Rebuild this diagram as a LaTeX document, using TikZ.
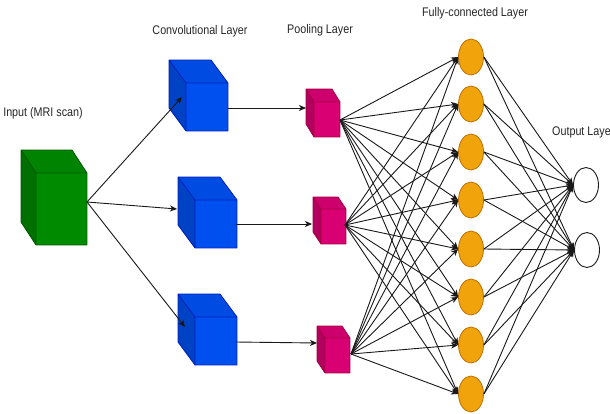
\documentclass[tikz,border=0pt]{standalone}
\usepackage{fontspec}
\setmainfont[FakeStretch=0.86]{Liberation Sans}
\usetikzlibrary{shapes.geometric,arrows.meta}

% face colours of the boxes and neurons
\definecolor{inFill}{HTML}{008A00}
\definecolor{inLine}{HTML}{005700}
\definecolor{convFill}{HTML}{0050EF}
\definecolor{convLine}{HTML}{001DBC}
\definecolor{poolFill}{HTML}{D80073}
\definecolor{poolLine}{HTML}{A50040}
\definecolor{fcFill}{HTML}{F0A30A}
\definecolor{fcLine}{HTML}{BD7000}

% a box seen from the front left: back corner (#1,#2), width #3, height #4,
% depth offset (#5,#6), colours #7Fill / #7Line
\newcommand{\drawcube}[7]{%
  \fill[#7Fill!95!black] (#1,#2) -- ++(#3,0) -- ++(#5,#6) -- ++(-#3,0) -- cycle;
  \fill[#7Fill!82!black] (#1,#2) -- ++(#5,#6) -- ++(0,#4) -- ++(-#5,-#6) -- cycle;
  \fill[#7Fill] (#1+#5,#2+#6) rectangle ++(#3,#4);
  \draw[#7Line, line width=0.8pt, line join=round]
    (#1,#2) -- ++(#3,0) -- ++(#5,#6) -- ++(0,#4) -- ++(-#3,0) -- ++(-#5,-#6) -- cycle
    (#1,#2) -- ++(#5,#6) -- ++(#3,0)
    (#1+#5,#2+#6) -- ++(0,#4);
}

\tikzset{
  lbl/.style={font=\fontsize{12.5}{15}\selectfont, text=black!85, inner sep=0pt},
  arr/.style={draw=black!90, line width=0.9pt,
    -{Stealth[length=7pt,width=6pt,inset=2pt]}},
  fc/.style={ellipse, draw=fcLine, fill=fcFill, line width=0.8pt,
    minimum width=25pt, minimum height=36pt, inner sep=0pt},
  outn/.style={ellipse, draw=black!90, fill=white, line width=0.9pt,
    minimum width=25pt, minimum height=35pt, inner sep=0pt},
}

\begin{document}
\begin{tikzpicture}[x=1pt,y=-1pt]
\useasboundingbox (0,0) rectangle (610,413);
\clip (0,0) rectangle (610,413);

% layer captions
\node[lbl] (t-in) at (43,113) {Input (MRI scan)};
\node[lbl] (t-conv) at (200,31) {Convolutional Layer};
\node[lbl] (t-pool) at (320,30) {Pooling Layer};
\node[lbl] (t-fc) at (475,13) {Fully-connected Layer};
\node[lbl, anchor=west] (t-out) at (552,132) {Output Layer};

% input volume
\drawcube{21}{150}{51}{72}{15}{23}{in}
% convolution volumes
\drawcube{169}{60}{42}{48}{17}{23}{conv}
\drawcube{178}{177}{42}{48}{17}{23}{conv}
\drawcube{178}{294}{42}{48}{17}{23}{conv}
% pooling volumes
\drawcube{306}{89}{26}{35}{8}{13}{pool}
\drawcube{313}{197}{25}{35}{8}{12}{pool}
\drawcube{317}{326}{25}{35}{8}{12}{pool}

% connection points on the volumes
\coordinate (in-out) at (87,202);
\coordinate (c1-in) at (182,97);
\coordinate (c2-in) at (177,209);
\coordinate (c3-in) at (185,327);
\coordinate (c1-out) at (228,108);
\coordinate (c2-out) at (236,224);
\coordinate (c3-out) at (236,342);
\coordinate (p1-in) at (306,108);
\coordinate (p2-in) at (312,224);
\coordinate (p3-in) at (317,343);
\coordinate (p1-out) at (340,120);
\coordinate (p2-out) at (345,225);
\coordinate (p3-out) at (351,354);

% fully-connected neurons
\foreach \i/\yy in {1/57,2/104,3/152,4/200,5/249,6/297,7/345,8/394}
  \node[fc] (f\i) at (471,\yy) {};
% output neurons
\node[outn] (o1) at (586,185) {};
\node[outn] (o2) at (587,250) {};

% input to convolution
\foreach \k in {1,2,3}
  \draw[arr] (in-out) -- (c\k-in);
% convolution to pooling
\foreach \k in {1,2,3}
  \draw[arr] (c\k-out) -- (p\k-in);
% pooling to fully-connected
\foreach \k in {1,2,3}
  \foreach \i in {1,...,8}
    \draw[arr] (p\k-out) -- (f\i.west);
% fully-connected to output
\foreach \i in {1,...,8}
  \foreach \j in {1,2}
    \draw[arr] (f\i.east) -- (o\j.west);
\end{tikzpicture}
\end{document}
